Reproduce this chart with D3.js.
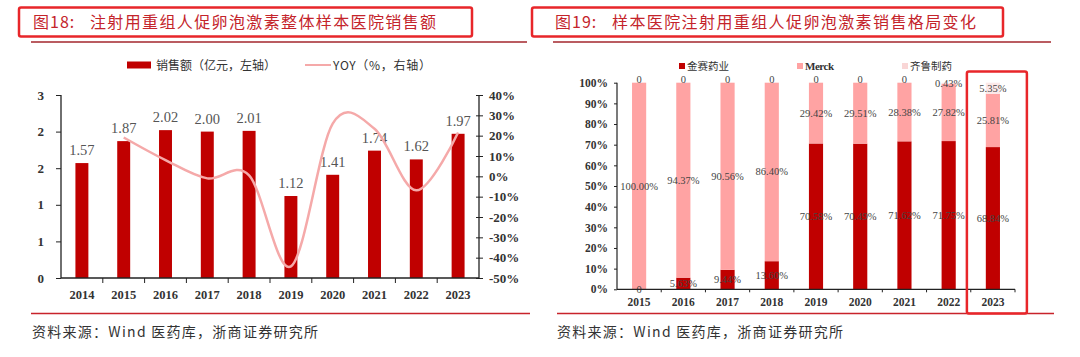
<!DOCTYPE html>
<html><head><meta charset="utf-8">
<script src="https://cdn.jsdelivr.net/npm/d3@7"></script>
<style>
html,body{margin:0;padding:0;background:#fff;}
svg{display:block;}
text{white-space:pre;}
</style></head>
<body>
<svg id="c" width="1080" height="357"></svg>
<script>
// ---------- DATA ----------
const yearsL = ["2014","2015","2016","2017","2018","2019","2020","2021","2022","2023"];
const sales = [1.57,1.87,2.02,2.00,2.01,1.12,1.41,1.74,1.62,1.97];
const salesLabels = ["1.57","1.87","2.02","2.00","2.01","1.12","1.41","1.74","1.62","1.97"];
const yoyYears = ["2015","2016","2017","2018","2019","2020","2021","2022","2023"];
const yoy = [19.1,8.0,-1.0,0.5,-44.3,25.9,23.4,-6.9,21.6];
const leftTickValues = [0,0.5,1,1.5,2,2.5];
const leftTickLabels = ["0","1","1","2","2","3"];
const rightTickValues = [-50,-40,-30,-20,-10,0,10,20,30,40];
const rightTickLabels = ["-50%","-40%","-30%","-20%","-10%","0%","10%","20%","30%","40%"];

const yearsR = ["2015","2016","2017","2018","2019","2020","2021","2022","2023"];
const jinsai = [0,5.63,9.44,13.60,70.58,70.49,71.62,71.75,68.84];
const merck = [100.00,94.37,90.56,86.40,29.42,29.51,28.38,27.82,25.81];
const qilu = [0,0,0,0,0,0,0,0.43,5.35];
const jinsaiLabels = ["0","5.63%","9.44%","13.60%","70.58%","70.49%","71.62%","71.75%","68.84%"];
const merckLabels = ["100.00%","94.37%","90.56%","86.40%","29.42%","29.51%","28.38%","27.82%","25.81%"];
const qiluLabels = ["0","0","0","0","0","0","0","0.43%","5.35%"];
const seriesNames = ["金赛药业","Merck","齐鲁制药"];
const pctTicks = [0,10,20,30,40,50,60,70,80,90,100];

const titleLHead = "图18:", titleLBody = "注射用重组人促卵泡激素整体样本医院销售额";
const titleRHead = "图19:", titleRBody = "样本医院注射用重组人促卵泡激素销售格局变化";
const legendL = ["销售额（亿元，左轴）","YOY（%，右轴）"];
const sourceText = "资料来源：Wind 医药库，浙商证券研究所";

// ---------- STYLE ----------
const RED = "#C00000", PINK = "#F5A9A9", MERCK = "#FFA3A3", QILU = "#FCE8E8";
const SERIF = "'Liberation Serif','Times New Roman',serif";
const CJK = "'Noto Sans CJK SC','Liberation Serif',serif";
const svg = d3.select("#c");

function fitText(sel, target){
  const n = sel.text().length;
  sel.attr("letter-spacing",0);
  const w = sel.node().getComputedTextLength();
  const ls = Math.max(-1,(target - w)/Math.max(1,n-1));
  sel.attr("letter-spacing", ls);
}

// ---------- headers ----------
function header(x0, boxW, ruleX0, ruleX1, head, body, tx, bx, bw){
  svg.append("rect").attr("x",x0).attr("y",7.5).attr("width",boxW).attr("height",29)
    .attr("rx",2).attr("fill","none").attr("stroke","#E8262A").attr("stroke-width",2.5);
  svg.append("text").attr("x",tx).attr("y",28).text(head)
    .attr("font-family",CJK).attr("font-size",16).attr("letter-spacing",1).attr("fill","#C4242B");
  const t = svg.append("text").attr("x",bx).attr("y",28).text(body)
    .attr("font-family",CJK).attr("font-size",16).attr("fill","#C4242B");
  fitText(t, bw);
  svg.append("line").attr("x1",ruleX0).attr("x2",ruleX1).attr("y1",42).attr("y2",42)
    .attr("stroke","#A3262C").attr("stroke-width",1.5);
}
header(19, 453, 31, 527, titleLHead, titleLBody, 33, 90, 346);
header(532, 471, 553, 1051, titleRHead, titleRBody, 555, 612, 364);

// bottom rules + source
[[31,530],[557,1054]].forEach(([a,b])=>{
  svg.append("line").attr("x1",a).attr("x2",b).attr("y1",313.5).attr("y2",313.5)
    .attr("stroke","#C8232B").attr("stroke-width",1.5);
});
[32,557].forEach(x=>{
  const t = svg.append("text").attr("x",x).attr("y",337).text(sourceText)
    .attr("font-family",CJK).attr("font-size",14).attr("fill","#333");
  fitText(t, 286);
});

// ---------- LEFT CHART ----------
const xL = d3.scaleBand().domain(yearsL).range([61,479]).paddingInner(0.69).paddingOuter(0.345);
const yL = d3.scaleLinear().domain([0,2.5]).range([278,95]);
const yR = d3.scaleLinear().domain([-50,40]).range([278,95]);

// legend
svg.append("rect").attr("x",127).attr("y",61.5).attr("width",24).attr("height",7).attr("fill",RED);
fitText(svg.append("text").attr("x",156).attr("y",69.5).text(legendL[0]).attr("font-family",CJK)
  .attr("font-size",12).attr("fill","#333"), 120);
svg.append("line").attr("x1",305).attr("x2",331).attr("y1",65).attr("y2",65).attr("stroke",PINK).attr("stroke-width",2);
fitText(svg.append("text").attr("x",333).attr("y",69.5).text(legendL[1]).attr("font-family",CJK)
  .attr("font-size",12).attr("fill","#333"), 98);

const gL = svg.append("g");
gL.selectAll("rect.bar").data(sales).join("rect").attr("class","bar")
  .attr("x",(d,i)=>xL(yearsL[i])).attr("width",xL.bandwidth())
  .attr("y",d=>yL(d)).attr("height",d=>yL(0)-yL(d)).attr("fill",RED);
gL.selectAll("text.val").data(sales).join("text").attr("class","val")
  .attr("x",(d,i)=>xL(yearsL[i])+xL.bandwidth()/2).attr("y",d=>yL(d)-8)
  .attr("text-anchor","middle").text((d,i)=>salesLabels[i])
  .attr("font-family",SERIF).attr("font-size",14.5).attr("fill","#555");

// line
const line = d3.line().x((d,i)=>xL(yoyYears[i])+xL.bandwidth()/2).y(d=>yR(d)).curve(d3.curveCardinal.tension(0));
gL.append("path").attr("d",line(yoy)).attr("fill","none").attr("stroke",PINK).attr("stroke-width",2.5);

// axes
const axL = d3.axisLeft(yL).tickValues(leftTickValues).tickFormat((d,i)=>leftTickLabels[i]).tickSize(5).tickPadding(12);
const gAxL = svg.append("g").attr("transform","translate(61,0)").call(axL);
const axR = d3.axisRight(yR).tickValues(rightTickValues).tickFormat((d,i)=>rightTickLabels[i]).tickSize(4).tickPadding(6);
const gAxR = svg.append("g").attr("transform","translate(479,0)").call(axR);
gAxR.selectAll(".tick line").attr("x1",-3);
const axB = d3.axisBottom(xL).tickSize(0).tickPadding(12);
const gAxB = svg.append("g").attr("transform","translate(0,278)").call(axB);
const boundsL = yearsL.slice(1).map(y=>xL(y)-xL.step()*xL.paddingInner()/2);
gAxB.selectAll("line.bt").data(boundsL).join("line").attr("class","bt")
  .attr("x1",d=>d).attr("x2",d=>d).attr("y1",0).attr("y2",5).attr("stroke","#222");
[gAxL,gAxR,gAxB].forEach(g=>{
  g.select(".domain").attr("stroke","#222").attr("stroke-width",1.3);
  g.selectAll(".tick line").attr("stroke","#222");
  g.selectAll("text").attr("font-family",SERIF).attr("font-weight","bold").attr("font-size",13).attr("fill","#333");
});
gAxB.selectAll("text").attr("font-size",12.5);
gAxR.select(".domain").attr("d","M0,95V278");
gAxL.select(".domain").attr("d","M0,95V278");
gAxB.select(".domain").attr("d","M61,0H479");

// ---------- RIGHT CHART ----------
const xS = d3.scaleBand().domain(yearsR).range([617,1015]).paddingInner(0.68).paddingOuter(0.34);
const yS = d3.scaleLinear().domain([0,100]).range([289.3,82.7]);
const stackData = yearsR.map((y,i)=>({year:y, j:jinsai[i], m:merck[i], q:qilu[i]}));
const stack = d3.stack().keys(["j","m","q"])(stackData);
const colors = [RED, MERCK, QILU];
const labelSets = [jinsaiLabels, merckLabels, qiluLabels];

const gS = svg.append("g");
stack.forEach((s,k)=>{
  gS.selectAll("rect.s"+k).data(s).join("rect").attr("class","s"+k)
    .attr("x",d=>xS(d.data.year)).attr("width",xS.bandwidth())
    .attr("y",d=>yS(d[1])).attr("height",d=>yS(d[0])-yS(d[1])).attr("fill",colors[k]);
});
stack.forEach((s,k)=>{
  gS.selectAll("text.l"+k).data(s).join("text").attr("class","l"+k)
    .attr("x",d=>xS(d.data.year)+xS.bandwidth()/2)
    .attr("y",(d,i)=>(yS(d[0])+yS(d[1]))/2 + (k===2 && qilu[i]===0 ? 0.5 : 3.5))
    .attr("text-anchor","middle").text((d,i)=>labelSets[k][i])
    .attr("font-family",SERIF).attr("font-size",10.5).attr("fill","#444");
});

// legend right
const legX = [679,797,902];
const legW = [42,29,42];
seriesNames.forEach((n,i)=>{
  svg.append("rect").attr("x",legX[i]).attr("y",63).attr("width",6).attr("height",6)
    .attr("fill", i===2 ? "#F9D6D6" : colors[i]);
  const t = svg.append("text").attr("x",legX[i]+8).attr("y",70).text(n)
    .attr("font-family", i===1 ? SERIF : CJK).attr("font-weight", i===1?"bold":"normal")
    .attr("font-size",i===1?11:10.5).attr("fill","#333");
  fitText(t, legW[i]);
});

const axS = d3.axisLeft(yS).tickValues(pctTicks).tickFormat(d=>d+"%").tickSize(3).tickPadding(6);
const gAxS = svg.append("g").attr("transform","translate(617,0)").call(axS);
const axSB = d3.axisBottom(xS).tickSize(0).tickPadding(9);
const gAxSB = svg.append("g").attr("transform","translate(0,289.3)").call(axSB);
const boundsR = yearsR.slice(1).map(y=>xS(y)-xS.step()*xS.paddingInner()/2).concat([1015]);
gAxSB.selectAll("line.bt").data(boundsR).join("line").attr("class","bt")
  .attr("x1",d=>d).attr("x2",d=>d).attr("y1",0).attr("y2",3).attr("stroke","#222");
[gAxS,gAxSB].forEach(g=>{
  g.select(".domain").attr("stroke","#222").attr("stroke-width",1.2);
  g.selectAll(".tick line").attr("stroke","#222");
  g.selectAll("text").attr("font-family",SERIF).attr("font-weight","bold").attr("font-size",11.5).attr("fill","#333");
});
gAxS.select(".domain").attr("d","M0,82.7V289.3");
gAxSB.select(".domain").attr("d","M617,0H1015");

// highlight box for 2023
const cx23 = xS("2023")+xS.bandwidth()/2;
svg.append("rect").attr("x",cx23-26).attr("y",71.5).attr("width",60).attr("height",242)
  .attr("rx",2).attr("fill","none").attr("stroke","#E8262A").attr("stroke-width",2.5);
</script>
</body></html>
